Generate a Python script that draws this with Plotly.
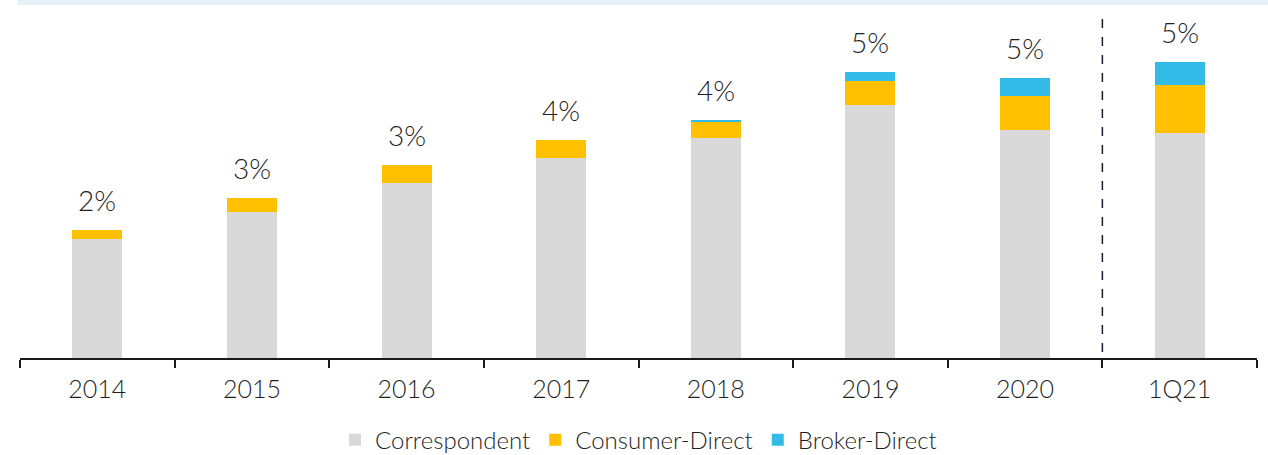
import plotly.graph_objects as go

# data (in % of market)
periods = ["2014", "2015", "2016", "2017", "2018", "2019", "2020", "1Q21"]
correspondent = [2.05, 2.52, 3.02, 3.45, 3.79, 4.36, 3.93, 3.88]
consumer_direct = [0.16, 0.24, 0.31, 0.31, 0.28, 0.41, 0.59, 0.83]
broker_direct = [0.0, 0.0, 0.0, 0.0, 0.04, 0.16, 0.31, 0.40]
share_labels = ["2%", "3%", "3%", "4%", "4%", "5%", "5%", "5%"]

FONT = "Lato Light, Lato"
TEXT_COLOR = "#1f1f1f"

fig = go.Figure()

series = [
    ("Correspondent", correspondent, "#d9d9d9"),
    ("Consumer-Direct", consumer_direct, "#ffc000"),
    ("Broker-Direct", broker_direct, "#33bbe8"),
]
for name, vals, color in series:
    fig.add_trace(go.Bar(
        x=periods, y=vals, name=name,
        marker=dict(color=color, line=dict(width=0)),
        width=0.323,
    ))

# total share labels above each stack
# (x given as category index, "2014" etc. would be read as a number)
totals = [a + b + c for a, b, c in zip(correspondent, consumer_direct, broker_direct)]
for i, (t, lab) in enumerate(zip(totals, share_labels)):
    fig.add_annotation(
        x=i, y=t, text=lab, showarrow=False,
        yanchor="bottom", yshift=11,
        font=dict(family=FONT, size=28, color=TEXT_COLOR, weight=300),
    )

# dashed divider between annual and quarterly data
fig.add_shape(
    type="line", xref="x", yref="paper",
    x0=6.5, x1=6.5, y0=0.017, y1=0.974,
    line=dict(color="#1a1a2e", width=1.5, dash="dash"),
)

# faint blue strip at the very top
fig.add_shape(
    type="rect", xref="paper", yref="paper",
    x0=-0.002, x1=1.01, y0=1.0144, y1=1.03,
    fillcolor="#e4f1f8", line=dict(width=0), layer="below",
)

fig.update_layout(
    barmode="stack",
    width=1268, height=455,
    margin=dict(l=20, r=11, t=10, b=97, autoexpand=False),
    plot_bgcolor="white",
    paper_bgcolor="white",
    font=dict(family=FONT, color=TEXT_COLOR),
    bargap=0,
    legend=dict(
        orientation="h", x=0.5, xanchor="center",
        y=-0.236, yanchor="middle",
        font=dict(family=FONT, size=24, color=TEXT_COLOR, weight=300),
        traceorder="normal", itemwidth=30,
    ),
    showlegend=True,
)
fig.update_xaxes(
    type="category",
    range=[-0.5, len(periods) - 0.5],
    showline=True, linecolor="#1a1a1a", linewidth=2,
    ticks="outside", ticklen=8, tickwidth=2, tickcolor="#1a1a1a",
    tickson="boundaries", ticklabelstandoff=8,
    tickfont=dict(family=FONT, size=25, color=TEXT_COLOR, weight=300),
    showgrid=False,
)
fig.update_yaxes(visible=False, range=[0, 6], showgrid=False)

# drop the default page margin so the figure fills the window exactly
fig.write_html(
    "out.html",
    config={"displayModeBar": False},
    post_script="document.body.style.margin = '0';",
)
